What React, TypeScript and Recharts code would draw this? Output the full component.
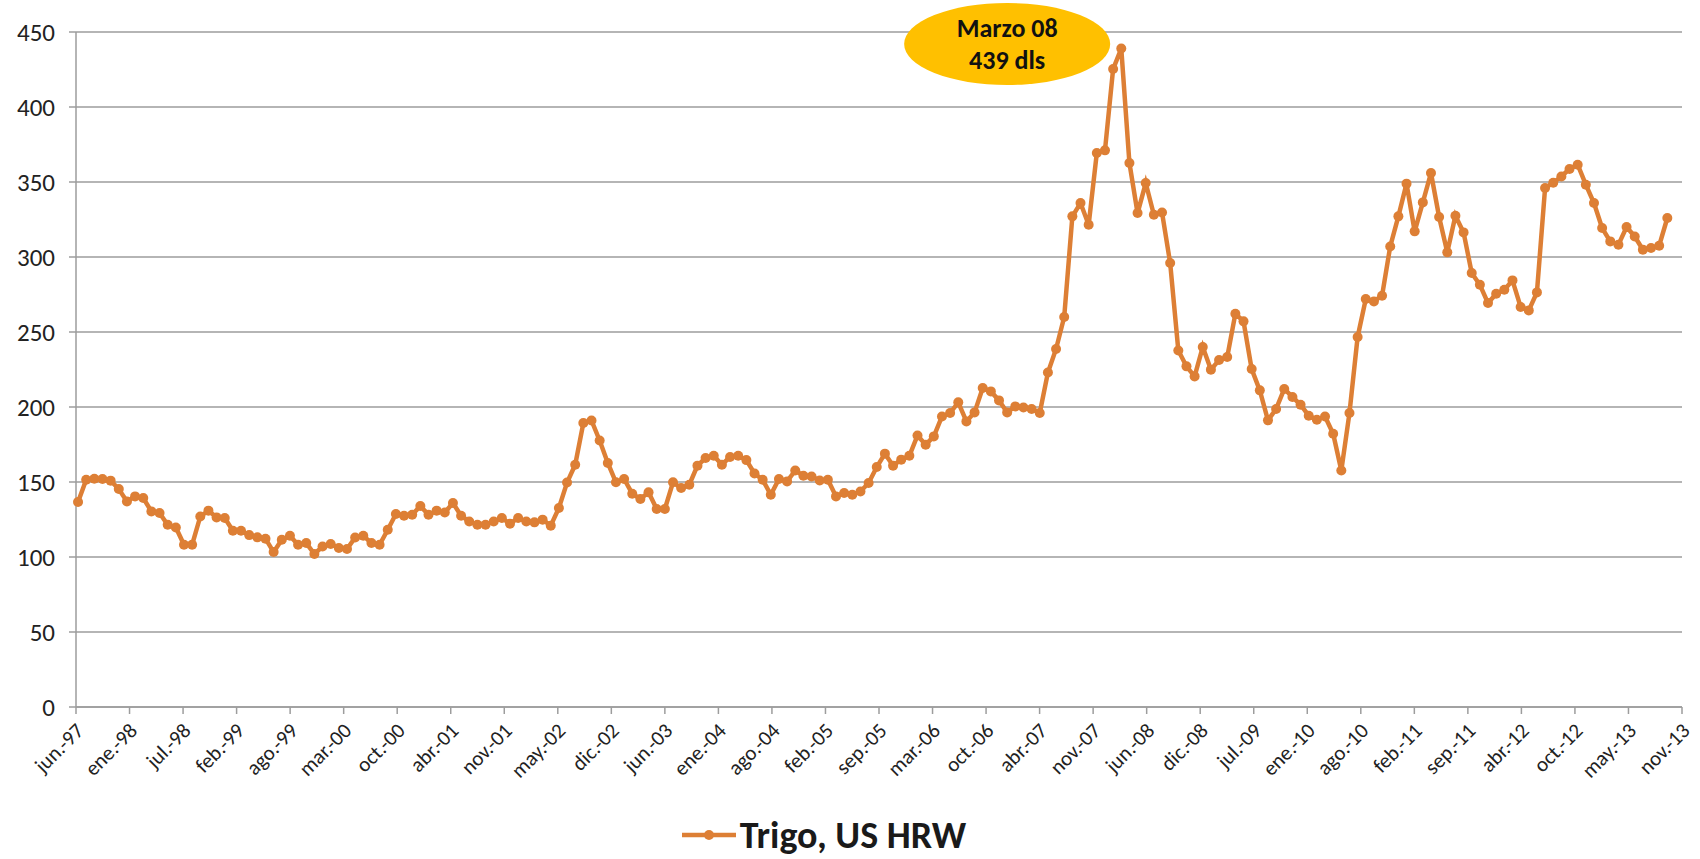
import {
  LineChart,
  Line,
  XAxis,
  YAxis,
  CartesianGrid,
  Legend,
  ReferenceDot,
} from "recharts";

// precio mensual del trigo US HRW (dls/ton), primer dato jul-97
const prices = [
  136.7, 151.5, 152.2, 152, 150.9, 145.3, 137, 140.4, 139.3, 130.4,
  129.3, 121.5, 119.7, 108.2, 108.2, 127, 130.9, 126.4, 126, 117.5,
  117.5, 114.6, 113.1, 112.2, 103.3, 111.5, 114.2, 108.2, 109.3, 102,
  107, 108.7, 106, 105.3, 113, 114.2, 109.3, 108.2, 118.2, 128.7,
  127.5, 128.2, 134, 128.2, 130.9, 129.7, 136, 127.5, 123.7, 121.5,
  121.5, 123.7, 126, 122.2, 126, 123.7, 123.1, 124.9, 120.9, 132.7,
  149.7, 161.5, 189.3, 191, 177.7, 162.7, 149.8, 152, 142.2, 138.7,
  143.1, 132, 132, 149.8, 146, 148.2, 160.9, 166, 167.5, 161.5,
  166.7, 167.5, 164.6, 155.7, 151.5, 141.5, 152, 150.4, 157.7, 154.2,
  153.7, 151, 151.5, 140.4, 142.7, 141.5, 143.7, 149.3, 160, 168.9,
  160.9, 164.9, 167.5, 181, 174.9, 180.4, 193.7, 196, 203.1, 190.4,
  196.4, 212.7, 210.4, 204.4, 196.4, 200.4, 199.7, 198.7, 196, 223,
  238.7, 260, 327.1, 336, 321.5, 369.3, 371.1, 425.3, 439, 362.7,
  329.3, 349.3, 328.2, 329.7, 296, 237.7, 227.1, 220.4, 240, 224.9,
  231.3, 233.3, 262.2, 257.1, 225.3, 211.1, 191.1, 198.7, 212, 206.7,
  201.5, 194.2, 191.5, 193.7, 182.2, 157.7, 196, 246.7, 272, 270.4,
  274.2, 307, 327.1, 348.9, 317.1, 336.4, 356, 326.7, 303.1, 327.5,
  316.4, 289.3, 281.5, 269.3, 275.5, 278.2, 284.4, 266.7, 264.4, 276.4,
  346, 349.5, 353.7, 358.7, 361.5, 348.2, 336, 319.3, 310.4, 308.2,
  320, 313.7, 304.9, 306, 307.5, 326,
];

const tickLabels = [
  "jun.-97", "ene.-98", "jul.-98", "feb.-99", "ago.-99", "mar.-00",
  "oct.-00", "abr.-01", "nov.-01", "may.-02", "dic.-02", "jun.-03",
  "ene.-04", "ago.-04", "feb.-05", "sep.-05", "mar.-06", "oct.-06",
  "abr.-07", "nov.-07", "jun.-08", "dic.-08", "jul.-09", "ene.-10",
  "ago.-10", "feb.-11", "sep.-11", "abr.-12", "oct.-12", "may.-13",
  "nov.-13",
];

const yTicks = [0, 50, 100, 150, 200, 250, 300, 350, 400, 450];

const seriesName = "Trigo, US HRW";
const calloutLines = ["Marzo 08", "439 dls"];

const ORANGE = "#DD7F35";
const GRID = "#9d9d9d";
const FONT = "Carlito, Calibri, Lato, sans-serif";

const data = prices.map((v, i) => ({ i, trigo: v }));

// eje de fechas: 30 intervalos iguales entre jun-97 y nov-13
const xStart = -0.25;
const xEnd = 196.8;
const xTicks = tickLabels.map(
  (_, k) => xStart + (k * (xEnd - xStart)) / (tickLabels.length - 1)
);

const XTick = (props: any) => {
  const { x, y, index } = props;
  return (
    <g transform={`translate(${x + 9},${y + 16})`}>
      <text
        textAnchor="end"
        transform="rotate(-45)"
        fontSize={21}
        fontFamily={FONT}
        fill="#222"
      >
        {tickLabels[index]}
      </text>
    </g>
  );
};

const Callout = (props: any) => {
  const { cx, cy } = props;
  return (
    <g>
      <ellipse cx={cx} cy={cy} rx={103} ry={41} fill="#FFC000" />
      <text
        x={cx}
        y={cy - 7}
        textAnchor="middle"
        fontSize={26}
        fontWeight={700}
        fontFamily={FONT}
        fill="#111"
      >
        {calloutLines[0]}
      </text>
      <text
        x={cx}
        y={cy + 25}
        textAnchor="middle"
        fontSize={26}
        fontWeight={700}
        fontFamily={FONT}
        fill="#111"
      >
        {calloutLines[1]}
      </text>
    </g>
  );
};

const LegendContent = () => (
  <div
    style={{
      height: 40,
      display: "flex",
      justifyContent: "center",
      alignItems: "center",
      paddingRight: 36,
      fontFamily: FONT,
    }}
  >
    <svg width={58} height={14} style={{ marginRight: 2 }}>
      <line x1={2} y1={7} x2={56} y2={7} stroke={ORANGE} strokeWidth={4.5} />
      <circle cx={29} cy={7} r={5} fill={ORANGE} />
    </svg>
    <span style={{ fontSize: 38, fontWeight: 700, color: "#1a1a1a", lineHeight: "40px" }}>
      {seriesName}
    </span>
  </div>
);

export default function App() {
  return (
    <div style={{ position: "absolute", left: 0, top: 0, width: 1700, height: 859, background: "#fff" }}>
      <LineChart
        width={1700}
        height={859}
        data={data}
        margin={{ top: 32, right: 18, left: 0, bottom: 4 }}
      >
        <CartesianGrid vertical={false} stroke={GRID} strokeWidth={1.5} />
        <XAxis
          dataKey="i"
          type="number"
          domain={[xStart, xEnd]}
          ticks={xTicks}
          interval={0}
          tick={<XTick />}
          height={108}
          stroke={GRID}
          strokeWidth={1.5}
          tickSize={7}
        />
        <YAxis
          domain={[0, 450]}
          ticks={yTicks}
          width={76}
          stroke={GRID}
          strokeWidth={1.5}
          tickSize={7}
          tickMargin={14}
          tick={{ fontSize: 25, fill: "#222", fontFamily: FONT }}
        />
        <Legend verticalAlign="bottom" content={<LegendContent />} />
        <Line
          type="linear"
          dataKey="trigo"
          stroke={ORANGE}
          strokeWidth={4.5}
          dot={{ r: 5, fill: ORANGE, stroke: ORANGE, strokeWidth: 0 }}
          isAnimationActive={false}
        />
        <ReferenceDot
          x={114}
          y={442}
          r={0}
          ifOverflow="visible"
          shape={<Callout />}
        />
      </LineChart>
    </div>
  );
}
